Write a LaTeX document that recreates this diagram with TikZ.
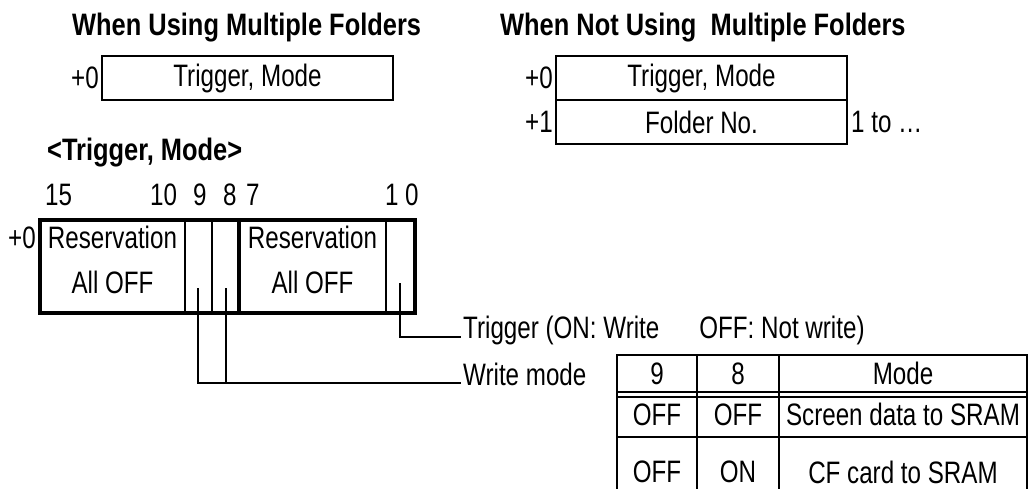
\documentclass[tikz,border=0pt]{standalone}
\usepackage{fontspec}
\setmainfont{Liberation Sans}[FakeStretch=0.78]
\newfontfamily\headfam{Liberation Sans}[FakeStretch=0.82]
\usetikzlibrary{positioning}

\begin{document}
\begin{tikzpicture}[x=1pt,y=-1pt,node distance=0pt,
  word/.style={font=\fontsize{31}{45}\selectfont,inner sep=2pt},
  head/.style={font=\headfam\bfseries\fontsize{31}{35}\selectfont,inner sep=0pt,anchor=base west},
  box/.style={word,draw,line width=2pt,outer sep=0pt,minimum width=291pt,minimum height=44pt},
  bitcell/.style={draw,line width=2pt,outer sep=0pt,inner sep=0pt,minimum height=93pt},
  cell/.style={word,draw,line width=1.8pt,outer sep=0pt,inner sep=0pt},
  lead/.style={line width=1.5pt}]
\useasboundingbox (0,0) rectangle (1029,488);

% word layout, with and without folders
\node[head] (using) at (72,35) {When Using Multiple Folders};
\node[head] (notusing) at (500,35) {When Not Using\ \ Multiple Folders};
\node[box] (m0) at (247.5,78) {Trigger, Mode};
\node[word,left=1pt of m0] (m0off) {+0};
\node[box] (n0) at (701.5,78) {Trigger, Mode};
\node[box,below=of n0] (n1) {Folder No.};
\node[word,left=1pt of n0] (n0off) {+0};
\node[word,left=1pt of n1] (n1off) {+1};
\node[word,right=2pt of n1] (range) {1 to …};

% bit assignment
\node[head] (fmt) at (47,160) {<Trigger, Mode>};
\foreach \b/\x in {15/43,10/148,9/191,8/221,7/244,1/383,0/403}
  \node[word,anchor=base west] (bit\b) at (\x,205) {\b};
\node[bitcell,minimum width=145pt,anchor=north west] (res1) at (40,220) {};
\node[bitcell,minimum width=27pt,right=of res1] (c9) {};
\node[bitcell,minimum width=27pt,right=of c9] (c8) {};
\node[bitcell,minimum width=147pt,right=of c8] (res2) {};
\node[bitcell,minimum width=29pt,right=of res2] (c0) {};
\draw[line width=4.5pt] (res1.north west) rectangle (c0.south east);
\draw[line width=4.5pt] (res2.north west) -- (res2.south west);
\node[word,align=center,yshift=7pt] (r1txt) at (res1) {Reservation\\All OFF};
\node[word,align=center,yshift=7pt] (r2txt) at (res2) {Reservation\\All OFF};
\node[word,anchor=base east] (regoff) at (38,248) {+0};

% leaders
\coordinate (p9) at (198,288);
\coordinate (p8) at (226,288);
\coordinate (p0) at (400,283);
\node[word,anchor=base west] (trig) at (461,338) {Trigger (ON: Write\hspace{40pt}OFF: Not write)};
\node[word,anchor=base west] (mode) at (461,385) {Write mode};
\coordinate (wm) at ([yshift=2pt]mode.base west);
\draw[lead] (p0) |- ([yshift=1pt]trig.base west);
\draw[lead] (p9) |- (wm);
\draw[lead] (p8) -- (p8 |- wm);

% mode table
\node[cell,minimum width=80pt,minimum height=37pt,anchor=north west] (h9) at (617,355) {9};
\node[cell,minimum width=82pt,minimum height=37pt,right=of h9] (h8) {8};
\node[cell,minimum width=248pt,minimum height=37pt,right=of h8] (hm) {Mode};
\node[cell,minimum width=80pt,minimum height=45pt,below=of h9] (a9) {OFF};
\node[cell,minimum width=82pt,minimum height=45pt,below=of h8] (a8) {OFF};
\node[cell,minimum width=248pt,minimum height=45pt,below=of hm] (am) {Screen data to SRAM};
\node[cell,minimum width=80pt,minimum height=70pt,below=of a9] (b9) {OFF};
\node[cell,minimum width=82pt,minimum height=70pt,below=of a8] (b8) {ON};
\node[cell,minimum width=248pt,minimum height=70pt,below=of am] (bm) {CF card to SRAM};
\draw[line width=1.8pt] ([yshift=-5pt]h9.south west) -- ([yshift=-5pt]hm.south east);
\end{tikzpicture}
\end{document}
